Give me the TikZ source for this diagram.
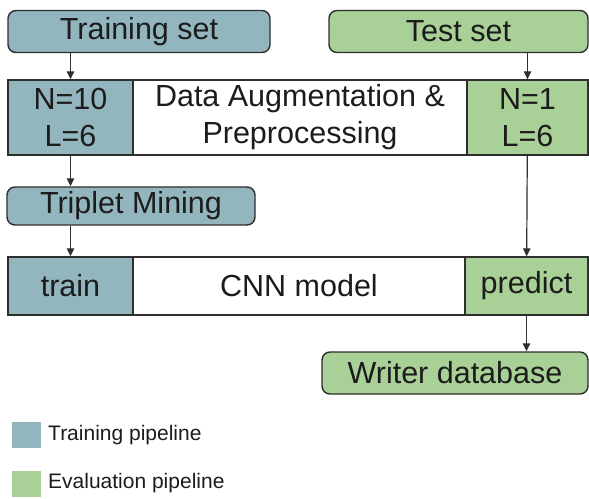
\documentclass[tikz,border=0pt]{standalone}
\usepackage{fontspec}
\setmainfont{Liberation Sans}
\usetikzlibrary{arrows.meta}
\usepackage{xcolor}
\definecolor{trainblue}{HTML}{93B5BD}
\definecolor{evalgreen}{HTML}{A9D097}
\definecolor{edgegray}{HTML}{2E2E2E}
\definecolor{textgray}{HTML}{1C1C1C}

\begin{document}
\begin{tikzpicture}[x=1pt,y=-1pt,
 cell/.style={draw=edgegray,line width=1.4pt,text=textgray,inner sep=0pt,
   font=\fontsize{30.5}{37}\selectfont,align=center},
 setbox/.style={cell,rounded corners=8pt,minimum height=42pt},
 flow/.style={-{Triangle[length=8pt,width=7.5pt]},line width=1.2pt,draw=edgegray},
 key/.style={inner sep=0pt,minimum width=29pt,minimum height=26pt}]
 \useasboundingbox (0,0) rectangle (589,498);
 %
 \node[setbox,fill=trainblue,minimum width=262pt] (trainset) at (139,31.5) {Training set};
 \node[setbox,fill=evalgreen,minimum width=259pt] (testset) at (458.5,31.5) {Test set};
 %
 \node[cell,fill=trainblue,minimum width=125pt,minimum height=75pt] (trainaug) at (70.5,117.5) {N=10\\L=6};
 \node[cell,fill=white,minimum width=334pt,minimum height=75pt] (augment) at (300,117.5) {Data Augmentation \&\\Preprocessing};
 \node[cell,fill=evalgreen,minimum width=121pt,minimum height=75pt] (testaug) at (527.5,117.5) {N=1\\L=6};
 %
 \node[setbox,fill=trainblue,minimum width=248pt,minimum height=38pt] (triplet) at (131,206) {Triplet Mining};
 %
 \node[cell,fill=trainblue,minimum width=125pt,minimum height=58pt] (train) at (70.5,286) {train};
 \node[cell,fill=white,minimum width=332pt,minimum height=58pt] (cnn) at (299,286) {CNN model};
 \node[cell,fill=evalgreen,minimum width=123pt,minimum height=58pt] (predict) at (526.5,286) {predict};
 %
 \node[setbox,fill=evalgreen,minimum width=266pt] (writerdb) at (455,373) {Writer database};
 %
 \draw[flow] (trainset.south -| trainaug) -- (trainaug);
 \draw[flow] (trainaug) -- (triplet.north -| trainaug);
 \draw[flow] (triplet.south -| train) -- (train);
 \draw[flow] (testset.south -| testaug) -- (testaug);
 \draw[flow] (testaug) -- (predict);
 \draw[flow] (predict) -- (writerdb.north -| predict);
 %
 \foreach \c/\t/\y [count=\n] in {trainblue/Training pipeline/435,evalgreen/Evaluation pipeline/483.5}
 {
 \node[key,fill=\c] (key\n) at (26.5,\y) {};
 \node[anchor=west,inner sep=0pt,text=textgray,font=\fontsize{21}{24}\selectfont] (keytext\n) at (48,\y) {\t};
 }
\end{tikzpicture}
\end{document}
